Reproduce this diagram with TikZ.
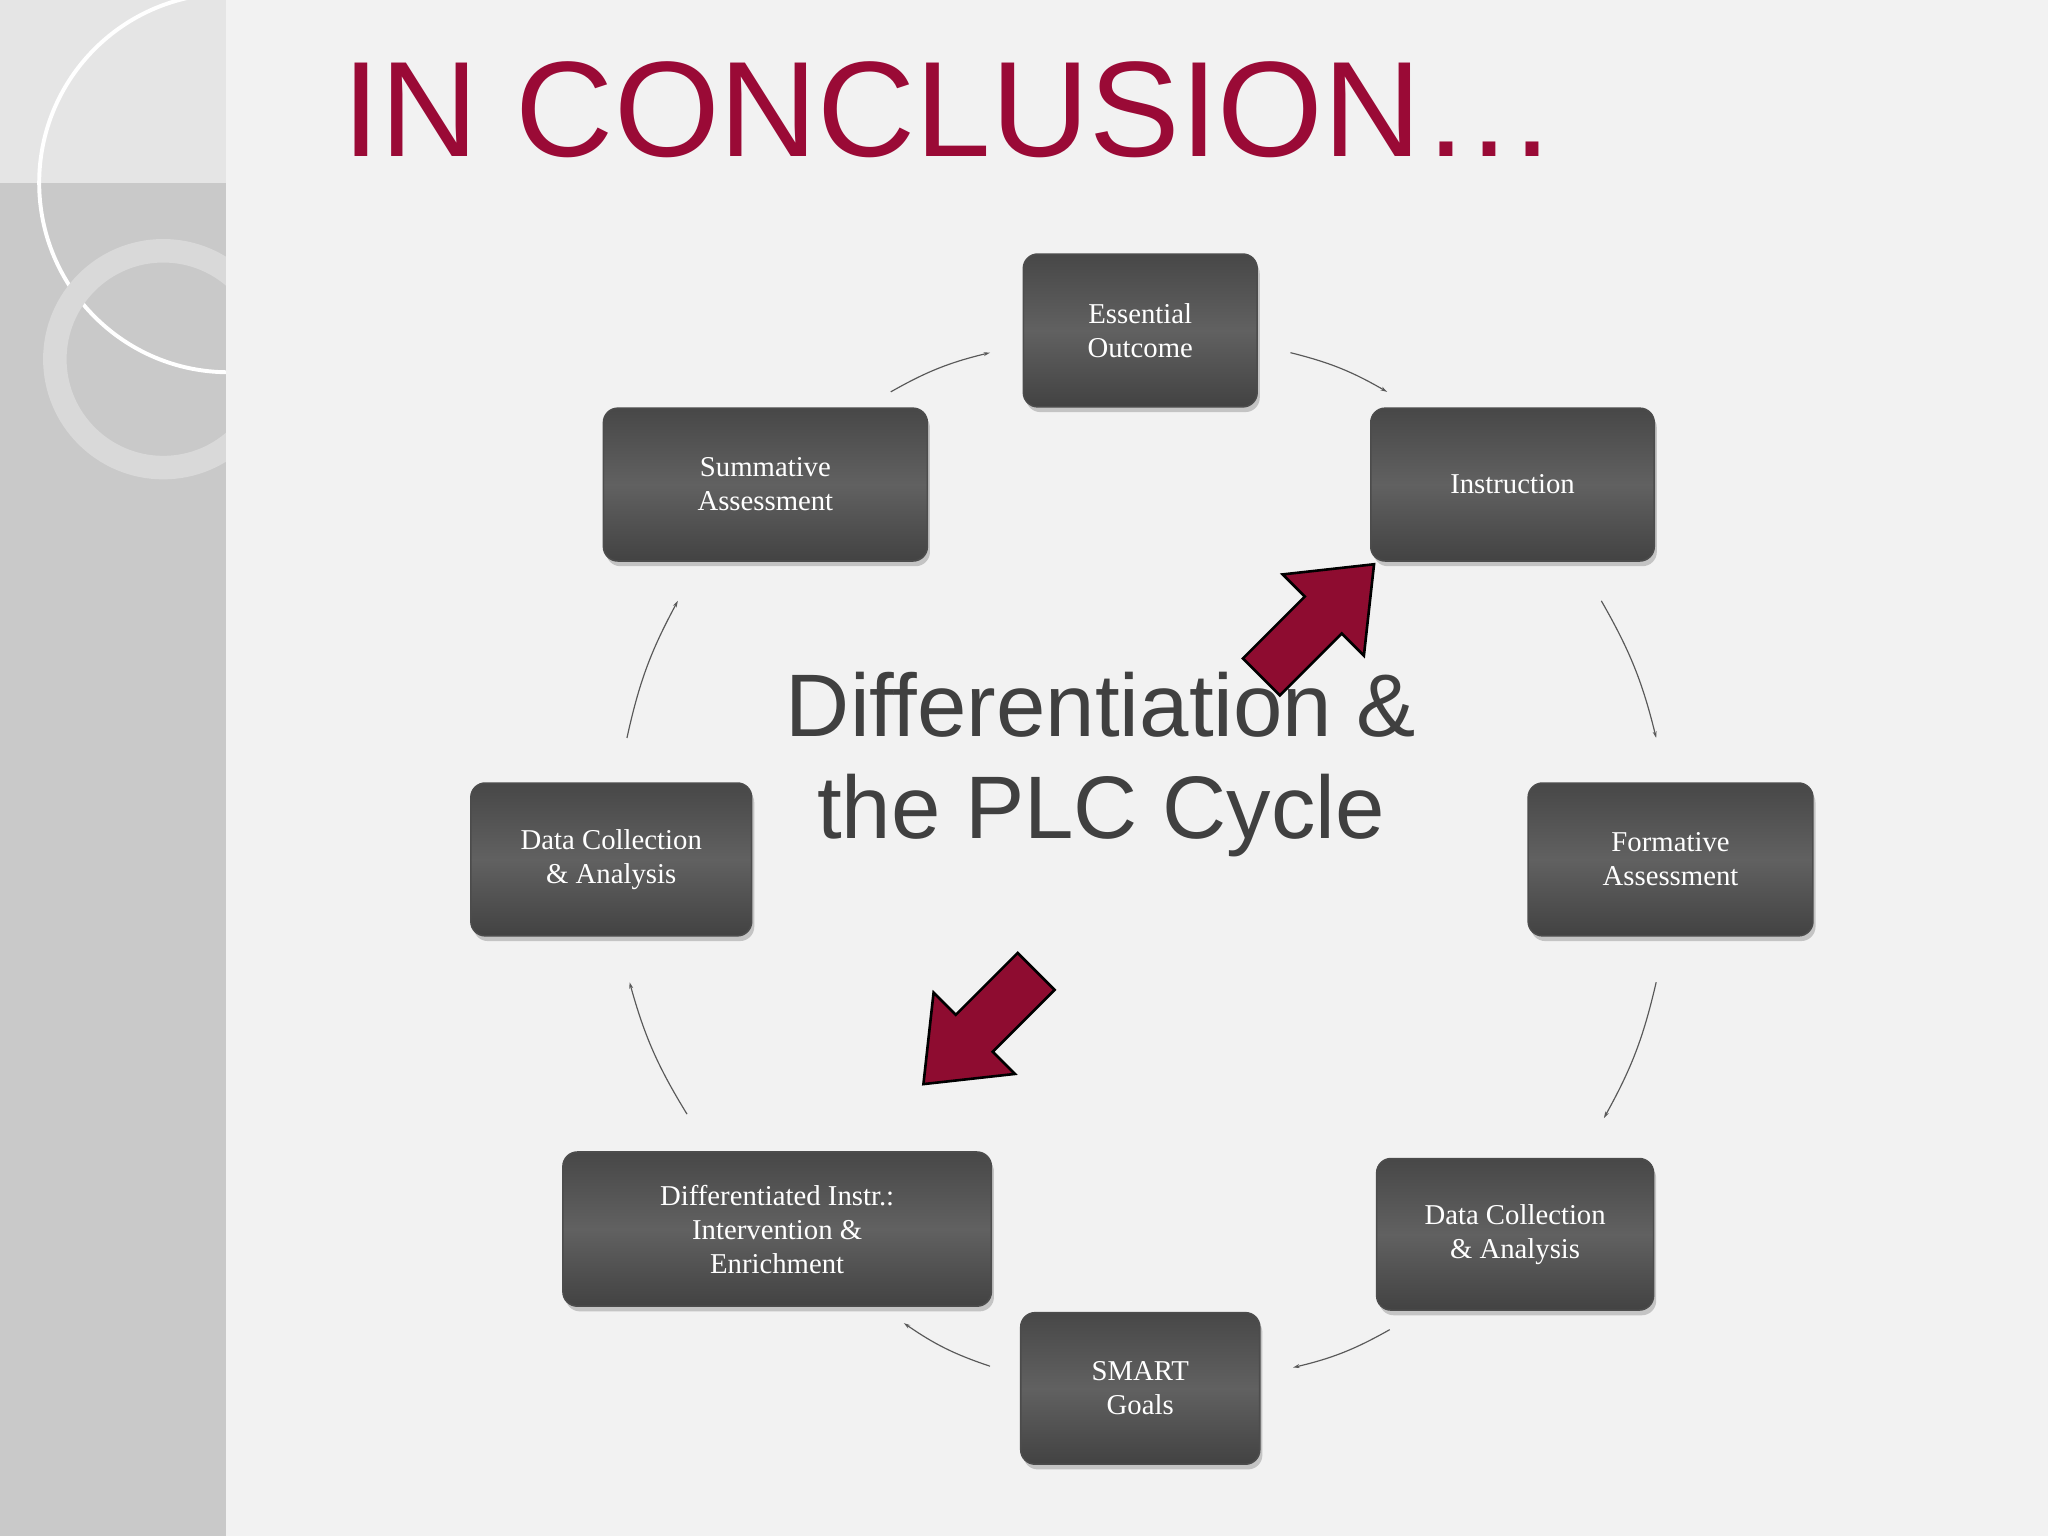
\documentclass[tikz,border=0pt]{standalone}
\usepackage{fontspec}
\setmainfont{Liberation Serif}
\newfontfamily\sansf{Liberation Sans}
\usetikzlibrary{shadows,arrows.meta}
\definecolor{crim}{HTML}{9A0A36}
\definecolor{arrred}{HTML}{8E0C30}
\definecolor{bg}{HTML}{F2F2F2}
\definecolor{strip}{HTML}{C9C9C9}
\tikzset{
 box/.style={rounded corners=11pt, draw=black!70, line width=1.2pt, top color=black!72, bottom color=black!74, middle color=black!62,
   text=white, font=\fontsize{22}{26}\selectfont, align=center, inner sep=0pt,
   drop shadow={shadow xshift=2pt,shadow yshift=-4pt,opacity=0.4}},
 cyc/.style={draw=black!65, line width=0.9pt, -{Stealth[length=5pt,width=3pt]}},
 bigarr/.style={fill=arrred, draw=black, line width=2pt}
}
\begin{document}
\begin{tikzpicture}[x=1pt,y=1pt]
\useasboundingbox (0,0) rectangle (1568,-1176);
\fill[bg] (0,0) rectangle (1568,-1176);
\fill[strip] (0,0) rectangle (173,-1176);
\begin{scope}
\clip (0,0) rectangle (173,-1176);
\fill[black!10] (0,0) rectangle (173,-140);
\draw[white,line width=3pt] (175,-140) circle (145);
\draw[black!15,line width=18pt] (125,-275) circle (83);
\draw[white!85!black,line width=6pt] (125,-275) circle (83);
\end{scope}
\node[anchor=base west, text=crim, font=\sansf\fontsize{104}{104}\selectfont, inner sep=0] (title) at (262,-120) {IN CONCLUSION…};

\node[box, minimum width=179, minimum height=117] (eo) at (873,-253) {Essential\\Outcome};
\node[box, minimum width=217, minimum height=117] (ins) at (1158,-371) {Instruction};
\node[box, minimum width=218, minimum height=117] (fa) at (1279,-658) {Formative\\Assessment};
\node[box, minimum width=212, minimum height=116] (dcr) at (1160,-945) {Data Collection\\\& Analysis};
\node[box, minimum width=183, minimum height=116] (sg) at (873,-1063) {SMART\\Goals};
\node[box, minimum width=328, minimum height=118] (di) at (595,-941) {Differentiated Instr.:\\Intervention \&\\Enrichment};
\node[box, minimum width=215, minimum height=117] (dcl) at (468,-658) {Data Collection\\\& Analysis};
\node[box, minimum width=248, minimum height=117] (sa) at (586,-371) {Summative\\Assessment};

\coordinate (a1) at (682,-300); \coordinate (b1) at (758,-270);
\coordinate (a2) at (988,-270); \coordinate (b2) at (1062,-300);
\coordinate (a3) at (1226,-460); \coordinate (b3) at (1268,-565);
\coordinate (a4) at (1268,-752); \coordinate (b4) at (1228,-856);
\coordinate (a5) at (1064,-1018); \coordinate (b5) at (990,-1047);
\coordinate (a6) at (758,-1046); \coordinate (b6) at (692,-1013);
\coordinate (a7) at (526,-853); \coordinate (b7) at (482,-752);
\coordinate (a8) at (480,-565); \coordinate (b8) at (519,-460);
\draw[cyc] (a1) to[bend left=8] (b1);
\draw[cyc] (a2) to[bend left=8] (b2);
\draw[cyc] (a3) to[bend left=8] (b3);
\draw[cyc] (a4) to[bend left=8] (b4);
\draw[cyc] (a5) to[bend left=8] (b5);
\draw[cyc] (a6) to[bend left=8] (b6);
\draw[cyc] (a7) to[bend left=8] (b7);
\draw[cyc] (a8) to[bend left=8] (b8);

\node[align=center, text=black!75, font=\sansf\fontsize{68}{78}\selectfont,
  inner sep=0] (ctr) at (843,-585) {Differentiation \&\\the PLC Cycle};

\begin{scope}[shift={(1052,-432)}, rotate=225]
\draw[bigarr] (0,0) -- (55,-44) -- (55,-20) -- (122,-20) -- (122,20) -- (55,20) -- (55,44) -- cycle;
\end{scope}
\begin{scope}[shift={(707,-830)}, rotate=45]
\draw[bigarr] (0,0) -- (55,-44) -- (55,-20) -- (122,-20) -- (122,20) -- (55,20) -- (55,44) -- cycle;
\end{scope}
\end{tikzpicture}
\end{document}
